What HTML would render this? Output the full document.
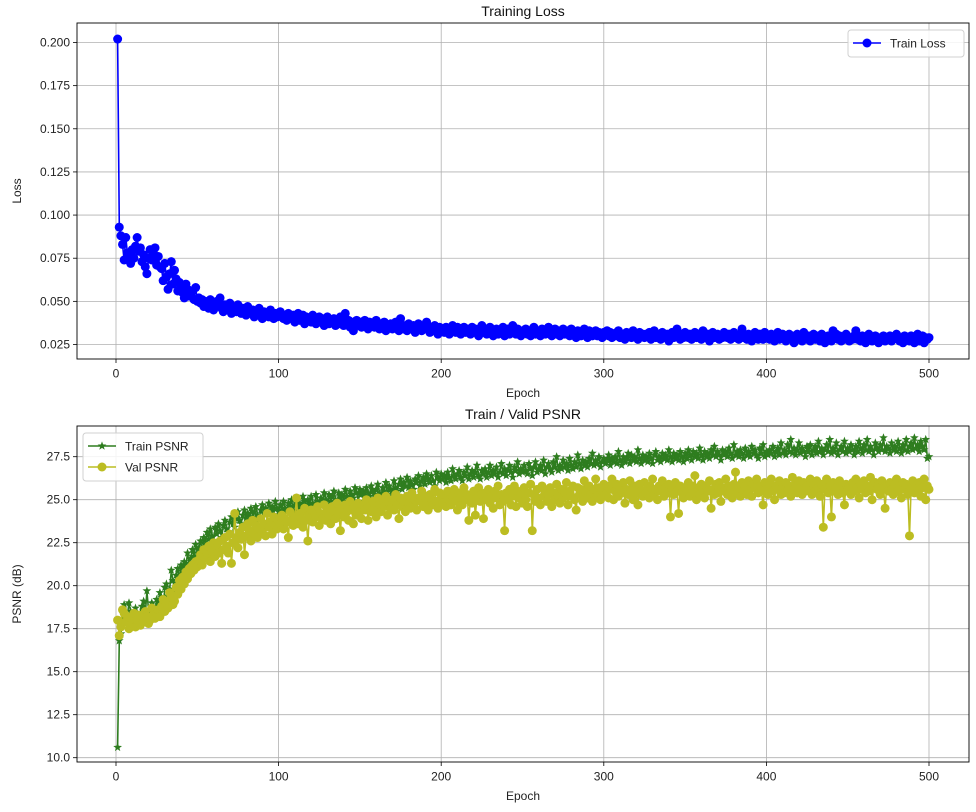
<!DOCTYPE html>
<html><head><meta charset="utf-8"><style>
body{margin:0;background:#fff}
svg{display:block;font-family:"Liberation Sans","DejaVu Sans",sans-serif}
</style></head><body>
<svg id="c" width="976" height="812" xmlns="http://www.w3.org/2000/svg"></svg>
<script>
const lossVals=[202,93,88,83,74,87,78,76,72,80,75,82,87,79,81,73,77,70,66,75,80,74,78,81,71,
76,70,69,62,72,64,57,66,73,60,68,63,56,61,58,55,52,60,57,53,54,56,51,58,50,
52,49,51,47,50,48,46,51,49,45,47,50,48,52,46,44,48,47,45,49,43,47,46,44,48,
45,43,46,44,42,47,44,43,45,41,44,42,46,43,40,44,42,43,41,45,42,40,43,41,42,
44,41,40,42,39,43,41,40,42,38,41,43,39,40,42,37,41,39,40,38,42,39,37,40,41,
38,40,36,39,41,37,39,38,40,36,39,37,41,38,36,43,37,39,35,38,33,37,39,36,38,
35,37,39,36,34,38,36,37,35,39,36,34,37,35,38,33,36,35,37,34,36,38,35,33,40,
35,34,36,33,37,35,34,36,32,35,37,34,33,36,35,38,34,32,35,33,36,34,31,35,33,
34,32,35,33,31,34,36,33,32,35,34,31,33,35,32,34,33,31,35,32,34,33,30,34,36,
32,33,31,34,35,32,30,33,34,31,33,32,35,30,33,34,31,32,36,33,31,34,32,30,33,
32,34,31,33,30,32,35,31,33,32,30,34,32,31,33,35,31,30,32,34,31,33,30,32,34,
31,32,33,30,34,31,32,29,33,31,30,32,34,31,29,33,32,30,31,33,30,32,31,29,32,
31,33,30,32,29,31,30,32,33,29,31,30,28,32,31,30,29,33,31,30,28,32,30,31,29,
31,30,32,28,30,33,29,31,30,28,32,30,29,31,27,30,32,29,31,34,30,28,31,29,32,
30,29,31,28,30,32,29,31,30,28,33,30,29,31,27,30,32,29,30,31,28,30,29,32,30,
29,31,28,30,32,29,30,28,31,34,29,30,28,31,29,27,30,32,29,28,31,30,28,32,29,
30,28,31,29,27,30,32,28,29,31,30,27,29,31,28,30,26,29,31,28,30,27,32,29,28,
30,27,29,31,28,30,29,27,31,28,26,29,30,28,27,33,29,31,28,30,27,29,28,31,29,
27,29,28,30,33,28,29,27,30,28,26,29,31,28,27,29,30,28,26,29,28,30,27,29,28,
30,27,28,29,31,28,27,29,26,30,28,29,27,30,28,26,29,31,27,28,30,26,29,28,29];
const trainPsnr=[106,168,172,181,189,178,183,190,185,176,182,187,180,179,184,188,191,183,197,186,182,190,188,185,192,
189,196,193,187,199,201,194,198,209,203,197,206,210,204,212,208,214,211,219,213,216,221,217,224,219,
222,226,220,228,224,231,227,233,229,226,234,230,236,232,228,235,238,233,231,237,240,236,234,239,243,
238,236,241,244,239,242,237,245,240,243,246,241,239,244,247,242,245,243,248,244,246,241,249,245,243,
247,244,249,245,243,248,246,250,244,247,251,245,248,246,252,249,243,250,247,252,248,246,253,249,247,
251,248,254,250,247,253,249,252,255,250,248,254,251,253,249,256,252,250,255,253,251,257,254,249,256,
253,255,251,257,254,252,258,255,253,256,259,254,252,257,255,260,253,258,256,254,261,257,255,259,262,
256,260,258,263,257,261,259,256,262,260,264,258,261,263,259,265,262,260,264,261,258,266,263,261,265,
262,264,260,266,263,261,268,264,262,265,267,263,261,266,264,269,262,265,267,263,266,270,264,262,267,
265,268,263,266,270,264,267,265,269,263,266,271,265,268,264,267,270,266,263,269,267,272,265,268,266,
270,267,265,271,268,264,269,272,266,268,270,267,273,265,269,271,268,266,272,269,275,267,270,268,273,
269,271,267,274,270,268,272,269,276,271,268,273,270,272,269,274,271,277,270,273,271,275,269,272,274,
271,273,276,270,274,272,275,271,278,273,270,275,272,274,277,271,276,273,275,272,279,274,271,276,273,
275,272,277,274,271,276,278,273,275,272,277,274,276,273,279,275,272,277,274,276,273,278,275,272,277,
274,279,276,273,278,275,277,274,280,276,273,278,275,277,274,279,276,281,275,278,276,273,279,276,278,
275,280,277,274,282,276,278,275,279,277,274,280,276,278,275,281,277,279,276,274,280,277,282,275,278,
276,279,277,281,275,278,280,276,283,277,279,276,282,278,285,277,280,276,279,283,277,280,278,275,281,
278,282,276,279,281,277,284,278,280,276,279,282,278,285,277,280,278,283,276,279,281,278,284,277,280,
278,282,279,276,281,278,284,280,277,282,279,285,278,281,279,276,283,280,278,282,279,286,278,281,280,
277,283,279,281,278,284,280,277,282,279,285,278,281,283,279,286,280,282,278,284,281,279,285,274,275];
const valPsnr=[180,171,176,186,184,179,182,175,181,178,184,176,180,183,177,181,179,185,182,178,180,187,183,181,184,
186,182,188,192,185,190,187,196,193,189,191,199,195,203,198,205,201,208,204,210,207,212,209,214,211,
215,218,212,221,216,219,223,214,220,225,217,222,219,226,213,221,228,223,219,230,213,225,242,228,222,
231,227,234,218,229,236,232,226,238,230,235,228,233,239,231,236,229,242,234,237,230,240,235,233,238,
236,241,233,239,237,228,243,238,235,240,251,236,242,239,234,245,238,226,241,244,237,243,240,246,235,
242,239,247,238,244,241,236,246,243,239,248,242,232,245,240,247,243,238,249,244,236,246,241,248,243,
239,247,244,250,238,246,243,249,245,240,251,247,243,249,246,252,241,248,245,250,244,253,247,239,251,
246,249,243,252,248,245,254,247,250,244,251,249,255,246,252,248,244,253,250,247,256,249,245,254,251,
248,253,246,255,250,247,252,256,249,244,254,251,247,257,250,253,238,252,248,255,241,251,257,249,253,
239,254,250,256,248,252,245,255,251,258,247,253,249,232,254,250,256,247,252,258,246,255,251,253,248,
257,250,246,254,259,232,253,249,256,251,247,258,252,255,249,253,257,246,254,250,259,252,248,256,251,
254,260,247,255,252,258,250,244,257,253,256,249,261,254,251,258,253,249,256,262,252,257,250,255,259,
253,258,251,256,262,250,255,259,252,257,254,260,248,256,253,261,255,250,258,254,247,259,255,252,260,
254,258,251,257,262,253,256,250,258,255,261,252,257,254,259,240,256,253,260,255,242,258,254,251,257,
255,260,252,258,254,264,250,257,253,259,256,251,258,255,261,245,256,253,259,254,260,249,257,255,262,
253,258,256,251,259,266,254,257,252,260,255,258,253,261,256,252,259,257,262,254,258,255,247,260,256,
253,259,262,255,250,258,256,261,253,257,254,260,255,258,252,263,256,259,254,261,257,253,260,255,258,
256,262,253,259,255,261,257,252,259,234,256,262,254,258,240,260,255,257,253,261,258,254,247,259,256,
258,253,260,255,262,257,251,259,256,261,254,258,255,263,250,257,260,256,259,253,261,257,245,258,255,
260,256,253,259,262,255,258,251,260,256,259,253,229,257,261,254,258,255,260,252,257,262,250,258,256];
const xTicks=[0,100,200,300,400,500];
const lossTicks=["0.025","0.050","0.075","0.100","0.125","0.150","0.175","0.200"];
const psnrTicks=["10.0","12.5","15.0","17.5","20.0","22.5","25.0","27.5"];

const NS="http://www.w3.org/2000/svg";
const svg=document.getElementById('c');
function el(t,a,p){const e=document.createElementNS(NS,t);for(const k in a)e.setAttribute(k,a[k]);(p||svg).appendChild(e);return e;}
const X=v=>116+v*1.626;
const AX0=77,AX1=969;
const Yl=v=>42.5+(0.2-v)*1725.7;
const Yp=v=>757.7+(10-v)*17.2;

function axes(top,bot,yTicks,Y,name,ylab,title,xlabY){
  const g=el('g',{});
  
  
  xTicks.forEach(t=>{
    const l=el('line',{x1:X(t),x2:X(t),y1:top,y2:bot,stroke:'#b0b0b0','stroke-width':0.8},g);
    
    el('line',{x1:X(t),x2:X(t),y1:bot,y2:bot+4,stroke:'#000','stroke-width':0.8},g);
    const tx=el('text',{x:X(t),y:bot+18.5,'font-size':12,'text-anchor':'middle',fill:'#222'},g);tx.textContent=t;
    
  });
  yTicks.forEach(s=>{
    const v=parseFloat(s),y=Y(v);
    const l=el('line',{x1:AX0,x2:AX1,y1:y,y2:y,stroke:'#b0b0b0','stroke-width':0.8},g);
    
    el('line',{x1:AX0-4,x2:AX0,y1:y,y2:y,stroke:'#000','stroke-width':0.8},g);
    const tx=el('text',{x:AX0-7,y:y+4,'font-size':12,'text-anchor':'end',fill:'#222'},g);tx.textContent=s;
    
  });
  const t=el('text',{x:523,y:top-7,'font-size':14,'text-anchor':'middle',fill:'#111'},g);t.textContent=title;
  
  const xl=el('text',{x:523,y:xlabY,'font-size':12,'text-anchor':'middle',fill:'#222'},g);xl.textContent='Epoch';
  
  const cy=(top+bot)/2;
  const yl=el('text',{x:0,y:0,'font-size':12,'text-anchor':'middle',fill:'#222',transform:`translate(21,${cy}) rotate(-90)`},g);yl.textContent=ylab;
  
  return g;
}
function frame(top,bot){
  const r=el('rect',{x:AX0,y:top,width:AX1-AX0,height:bot-top,fill:'none',stroke:'#000','stroke-width':0.9});
  
}
function star(x,y,r){let p=[];for(let i=0;i<10;i++){const a=-Math.PI/2+i*Math.PI/5,rr=i%2?r*0.42:r;p.push((x+rr*Math.cos(a)).toFixed(1)+','+(y+rr*Math.sin(a)).toFixed(1));}return p.join(' ');}
function series(vals,scale,Y,color,marker,name,lw){
  const g=el('g',{});
  
  
  const pts=vals.map((v,i)=>[X(i+1),Y(v/scale)]);
  el('polyline',{points:pts.map(p=>p[0].toFixed(1)+','+p[1].toFixed(1)).join(' '),fill:'none',stroke:color,'stroke-width':lw,'stroke-linejoin':'round'},g);
  pts.forEach(p=>{
    let m;
    if(marker==='o')m=el('circle',{cx:p[0],cy:p[1],r:4.5,fill:color},g);
    else m=el('polygon',{points:star(p[0],p[1],4.6),fill:color},g);
    
    
  });
}
axes(23,359,lossTicks,Yl,'loss-axes','Loss','Training Loss',397);
series(lossVals,1000,Yl,'#0000ff','o','train-loss-series',1.6);
frame(23,359);
axes(426,762,psnrTicks,Yp,'psnr-axes','PSNR (dB)','Train / Valid PSNR',800);
series(trainPsnr,10,Yp,'#2e7d1f','*','train-psnr-series',1.6);
series(valPsnr,10,Yp,'#bcbd22','o','val-psnr-series',1.6);
frame(426,762);
function legend(x,y,w,items,name){
  const g=el('g',{});
  
  
  el('rect',{x:x,y:y,width:w,height:items.length*21+6,rx:3,fill:'#fff','fill-opacity':0.85,stroke:'#d0d0d0'},g);
  items.forEach((it,i)=>{
    const cy=y+13+i*21;
    const e=el('g',{},g);
    
    
    el('line',{x1:x+5,x2:x+33,y1:cy,y2:cy,stroke:it.c,'stroke-width':1.6},e);
    if(it.m==='o')el('circle',{cx:x+19,cy:cy,r:4.5,fill:it.c},e);
    else el('polygon',{points:star(x+19,cy,4.6),fill:it.c},e);
    const t=el('text',{x:x+42,y:cy+4.5,'font-size':12,fill:'#222'},e);t.textContent=it.t;
  });
}
legend(848,30,116,[{c:'#0000ff',m:'o',t:'Train Loss'}],'loss-legend');
legend(83,433,120,[{c:'#2e7d1f',m:'*',t:'Train PSNR'},{c:'#bcbd22',m:'o',t:'Val PSNR'}],'psnr-legend');
</script>
</body></html>
